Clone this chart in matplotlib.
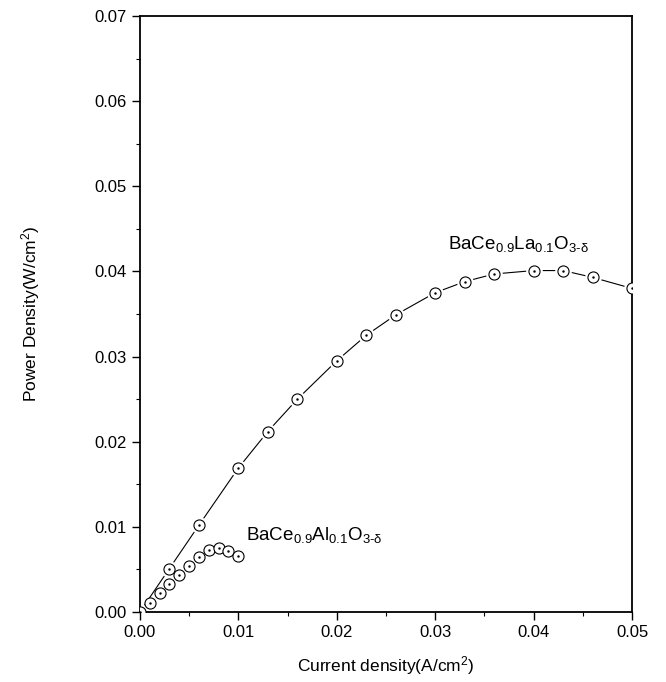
import matplotlib
matplotlib.use("Agg")
import matplotlib.pyplot as plt
from matplotlib.ticker import MultipleLocator

plt.rcParams['font.family'] = ['Liberation Sans', 'DejaVu Sans']
plt.rcParams['mathtext.fontset'] = 'custom'
plt.rcParams['mathtext.rm'] = 'Liberation Sans'
plt.rcParams['mathtext.it'] = 'Liberation Sans'
plt.rcParams['mathtext.bf'] = 'Liberation Sans:bold'

# Data
la_x = [0.0, 0.003, 0.006, 0.010, 0.013, 0.016, 0.020, 0.023, 0.026, 0.030,
        0.033, 0.036, 0.040, 0.043, 0.046, 0.050]
la_y = [0.0, 0.0051, 0.0102, 0.0169, 0.0212, 0.0250, 0.0295, 0.0325, 0.0349,
        0.0375, 0.0388, 0.0397, 0.0401, 0.0401, 0.0393, 0.0380]
al_x = [0.001, 0.002, 0.003, 0.004, 0.005, 0.006, 0.007, 0.008, 0.009, 0.010]
al_y = [0.0011, 0.0022, 0.00325, 0.00435, 0.00544, 0.0065, 0.0073, 0.0075,
        0.0072, 0.00655]

fig = plt.figure(figsize=(6.66, 6.82), dpi=100)
ax = fig.add_axes([0.210, 0.1026, 0.739, 0.874])

# La series: line with gaps around markers
ax.plot(la_x, la_y, '-', color='black', lw=0.8, zorder=1)
ax.plot(la_x, la_y, 'o', ms=12, mfc='white', mec='none', zorder=2)
ax.plot(la_x, la_y, 'o', ms=8, mfc='white', mec='black', mew=0.8, zorder=3)
ax.plot(la_x, la_y, '.', ms=1.5, color='black', zorder=4)

# Al series: markers only
ax.plot(al_x, al_y, 'o', ms=8, mfc='white', mec='black', mew=0.8, zorder=3)
ax.plot(al_x, al_y, '.', ms=1.5, color='black', zorder=4)

ax.set_xlim(0, 0.05)
ax.set_ylim(0, 0.07)
ax.xaxis.set_major_locator(MultipleLocator(0.01))
ax.xaxis.set_minor_locator(MultipleLocator(0.005))
ax.yaxis.set_major_locator(MultipleLocator(0.01))
ax.yaxis.set_minor_locator(MultipleLocator(0.005))
ax.xaxis.set_major_formatter(plt.FuncFormatter(lambda v, p: f"{v:.2f}"))
ax.yaxis.set_major_formatter(plt.FuncFormatter(lambda v, p: f"{v:.2f}"))
ax.tick_params(which='major', direction='out', length=6, width=1.0, labelsize=12)
ax.tick_params(which='minor', direction='out', length=3, width=0.8)
ax.tick_params(top=False, right=False)
for s in ax.spines.values():
    s.set_linewidth(1.3)

ax.set_xlabel('Current density(A/cm$^2$)', fontsize=12.5, labelpad=10)
ax.set_ylabel('Power Density(W/cm$^2$)', fontsize=12.5, labelpad=38)

ax.text(0.0313, 0.0426, r'BaCe$_{0.9}$La$_{0.1}$O$_{3\text{-}\delta}$', fontsize=13.5,
        ha='left', va='baseline')
ax.text(0.0108, 0.0084, r'BaCe$_{0.9}$Al$_{0.1}$O$_{3\text{-}\delta}$', fontsize=13.5,
        ha='left', va='baseline')

fig.savefig('out.png', dpi=100)
